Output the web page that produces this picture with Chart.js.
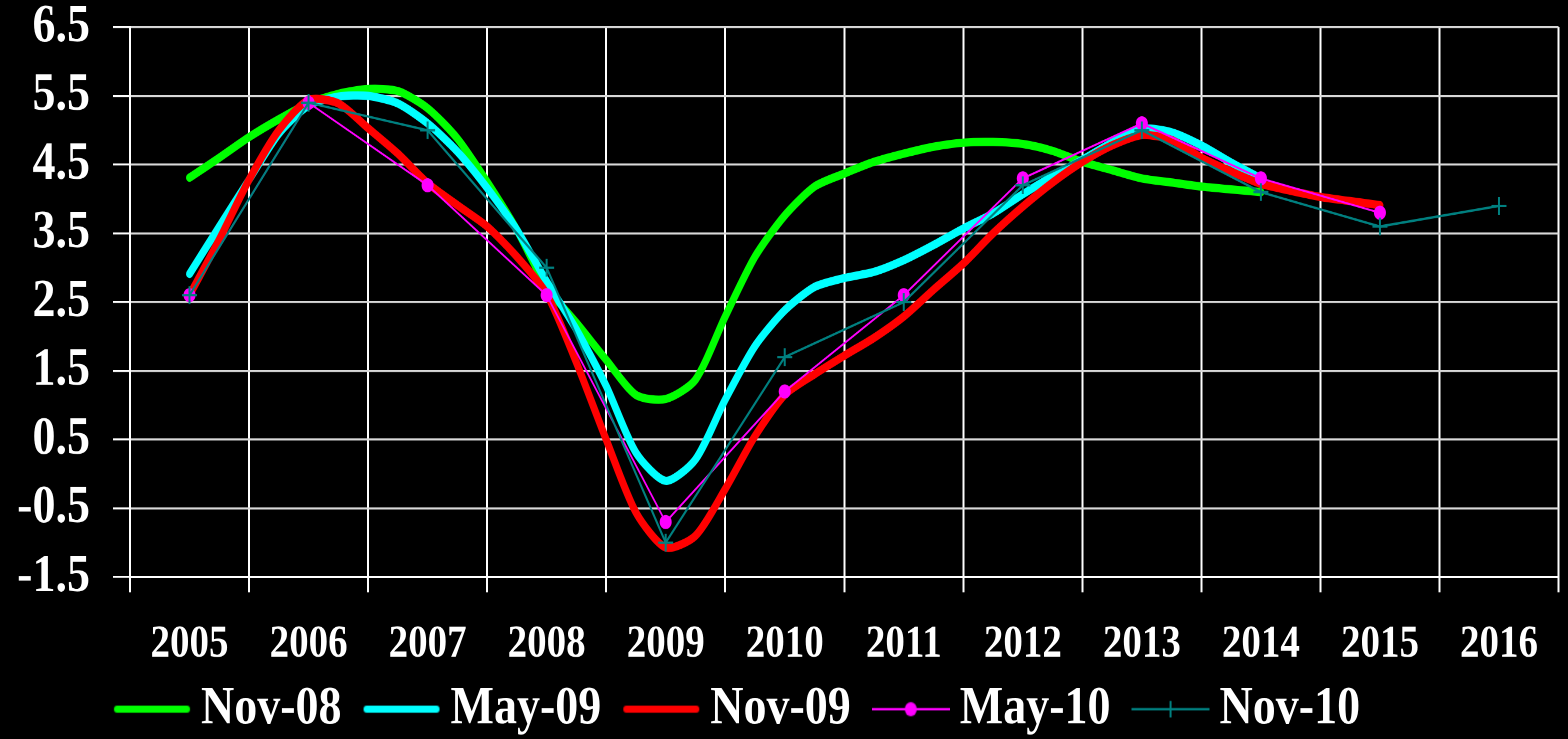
<!DOCTYPE html>
<html>
<head>
<meta charset="utf-8">
<script src="https://cdn.jsdelivr.net/npm/chart.js@4.4.1/dist/chart.umd.min.js"></script>
<style>
html,body{margin:0;padding:0;background:#000;overflow:hidden;width:1568px;height:739px;}
#wrap{position:absolute;left:0;top:0;width:1568px;height:634px;transform:scaleY(1.18);transform-origin:0 0;}
</style>
</head>
<body>
<div id="wrap"><canvas id="c" width="1568" height="634"></canvas></div>
<script>
// ---- data ----
const years = ['2005','2006','2007','2008','2009','2010','2011','2012','2013','2014','2015','2016'];
const yTicks = [-1.5,-0.5,0.5,1.5,2.5,3.5,4.5,5.5,6.5];
const seriesNames = ['Nov-08','May-09','Nov-09','May-10','Nov-10'];

// quarterly forecasts, starting at 2005
const nov08 = [4.31,4.60,4.90,5.16,5.39,5.53,5.60,5.57,5.32,4.88,
               4.25,3.55,2.72,2.20,1.66,1.15,1.09,1.37,2.29,3.16,
               3.76,4.18,4.37,4.54,4.66,4.76,4.82,4.83,4.80,4.70,
               4.54,4.42,4.30,4.24,4.18,4.14,4.10];
const may09 = [2.91,3.60,4.28,4.95,5.36,5.49,5.50,5.39,5.10,4.69,
               4.16,3.55,2.80,2.10,1.28,0.31,-0.10,0.21,1.08,1.86,
               2.38,2.72,2.85,2.94,3.11,3.33,3.57,3.79,4.07,4.33,
               4.57,4.82,5.02,4.97,4.78,4.53,4.30];
const nov09 = [2.60,3.41,4.28,5.00,5.44,5.39,5.03,4.66,4.23,3.91,
               3.60,3.16,2.62,1.62,0.50,-0.56,-1.07,-0.90,-0.22,0.55,
               1.15,1.45,1.72,1.98,2.29,2.68,3.06,3.50,3.89,4.24,
               4.54,4.78,4.93,4.86,4.60,4.40,4.22,4.12,4.03,3.97,3.91];
// annual forecasts
const may10 = [2.6,5.4,4.2,2.6,-0.7,1.2,2.6,4.3,5.1,4.3,3.8];
const nov10 = [2.6,5.4,5.0,3.0,-1.0,1.7,2.5,4.2,5.0,4.1,3.6,3.9];

// ---- helpers ----
function quarterly(vals){ return vals.map((v,i)=>({x:0.5+i*0.25, y:v})); }
function annual(vals){ return vals.map((v,i)=>({x:0.5+i, y:v})); }

const colors = ['#00ff00','#00ffff','#ff0000','#ff00ff','#008080'];

function makeIcon(color, kind){
  const c = document.createElement('canvas');
  c.width = 78; c.height = 20;
  const g = c.getContext('2d');
  g.strokeStyle = color; g.fillStyle = color;
  if (kind === 'thick'){
    g.lineWidth = 6; g.lineCap = 'round';
    g.beginPath(); g.moveTo(4,10); g.lineTo(74,10); g.stroke();
  } else {
    g.lineWidth = 2;
    g.beginPath(); g.moveTo(0,10); g.lineTo(78,10); g.stroke();
    if (kind === 'dot'){
      g.beginPath(); g.arc(39,10,6,0,Math.PI*2); g.fill();
    } else {
      g.beginPath(); g.moveTo(39,3); g.lineTo(39,17); g.stroke();
    }
  }
  return c;
}
const legendIcons = [
  makeIcon(colors[0],'thick'), makeIcon(colors[1],'thick'), makeIcon(colors[2],'thick'),
  makeIcon(colors[3],'dot'), makeIcon(colors[4],'plus')
];

const xTickValues = years.flatMap((y,i)=>[i, i+0.5]).concat([years.length]);
const serif = 'Liberation Serif, Times New Roman, serif';

const thick = (label, data, color, order) => ({
  label, data, borderColor: color, backgroundColor: color, borderWidth: 7,
  pointRadius: 0, pointHoverRadius: 0, tension: 0.25, fill: false,
  borderJoinStyle: 'round', borderCapStyle: 'round', order
});

// let axis labels draw outside the (deliberately narrow) axis boxes
const unclipAxes = {
  id: 'unclipAxes',
  afterLayout(chart){
    const y = chart.scales.y; y.left = 0; y.width = y.right;
    const x = chart.scales.x; x.bottom = chart.height; x.height = x.bottom - x.top;
  }
};

new Chart(document.getElementById('c'), {
  type: 'line',
  plugins: [unclipAxes],
  data: {
    datasets: [
      thick(seriesNames[0], quarterly(nov08), colors[0], 4),
      thick(seriesNames[1], quarterly(may09), colors[1], 3),
      thick(seriesNames[2], quarterly(nov09), colors[2], 2),
      { label: seriesNames[3], data: annual(may10), borderColor: colors[3], backgroundColor: colors[3],
        borderWidth: 1.7, pointStyle: 'circle', pointRadius: 6, pointBorderWidth: 0, tension: 0, fill: false, order: 1 },
      { label: seriesNames[4], data: annual(nov10), borderColor: colors[4], backgroundColor: colors[4],
        borderWidth: 2, pointStyle: 'cross', pointRadius: 7.5, pointBorderWidth: 2, tension: 0, fill: false, order: 0 }
    ]
  },
  options: {
    responsive: false,
    devicePixelRatio: 2,
    animation: false,
    layout: { padding: { left: 92, right: 6, top: 0, bottom: 0 } },
    plugins: {
      tooltip: { enabled: false },
      legend: {
        position: 'bottom',
        align: 'start',
        labels: {
          usePointStyle: true,
          pointStyleWidth: 52,
          boxHeight: 46,
          padding: 34,
          color: '#ffffff',
          font: { family: serif, size: 46, weight: 'bold' },
          generateLabels: (chart) => chart.data.datasets.map((ds,i)=>({
            text: ds.label, fillStyle: ds.borderColor, strokeStyle: ds.borderColor,
            lineWidth: 0, pointStyle: legendIcons[i], hidden: false, datasetIndex: i, fontColor: '#ffffff'
          }))
        }
      }
    },
    scales: {
      x: {
        type: 'linear', min: 0, max: years.length,
        afterBuildTicks: s => { s.ticks = xTickValues.map(v=>({value:v})); },
        afterFit: s => { s.height = 55; s.paddingLeft = 0; s.paddingRight = 0; },
        grid: {
          color: c => (c.tick && Number.isInteger(c.tick.value)) ? '#ffffff' : 'rgba(0,0,0,0)',
          tickColor: c => (c.tick && Number.isInteger(c.tick.value)) ? '#ffffff' : 'rgba(0,0,0,0)',
          lineWidth: 2, tickLength: 13
        },
        border: { display: true, color: '#ffffff', width: 2 },
        ticks: {
          autoSkip: false, maxRotation: 0, minRotation: 0, padding: 25, color: '#ffffff',
          font: { family: serif, size: 39, weight: 'bold', lineHeight: 1 },
          callback: v => Number.isInteger(v) ? '' : years[Math.floor(v)]
        }
      },
      y: {
        min: -1.5, max: 6.5,
        afterBuildTicks: s => { s.ticks = yTicks.map(v=>({value:v})); },
        afterFit: s => { s.width = 38; s.paddingTop = 23; s.paddingBottom = 23; },
        grid: { color: '#d9d9d9', lineWidth: 1.7, tickLength: 17, tickColor: '#ffffff' },
        border: { display: true, color: '#ffffff', width: 2 },
        ticks: {
          padding: 23, color: '#ffffff',
          font: { family: serif, size: 46, weight: 'bold', lineHeight: 1 },
          callback: v => Number(v).toFixed(1)
        }
      }
    }
  }
});
</script>
</body>
</html>
